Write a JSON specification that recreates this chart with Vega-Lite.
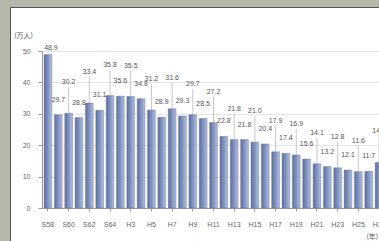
{
  "$schema": "https://vega.github.io/schema/vega-lite/v6.json",
  "width": 369,
  "height": 234,
  "autosize": {"type": "none"},
  "padding": {"left": 10, "top": 7, "right": 0, "bottom": 0},
  "background": "#b6b7a8",
  "view": {"fill": "white", "stroke": "#555555", "strokeWidth": 1},
  "config": {"font": "Liberation Sans"},
  "data": {
    "values": [
      {"year": 1983, "era": "S58", "v": 48.9},
      {"year": 1984, "era": "S59", "v": 29.7},
      {"year": 1985, "era": "S60", "v": 30.2},
      {"year": 1986, "era": "S61", "v": 28.8},
      {"year": 1987, "era": "S62", "v": 33.4},
      {"year": 1988, "era": "S63", "v": 31.1},
      {"year": 1989, "era": "S64", "v": 35.8},
      {"year": 1990, "era": "H2", "v": 35.6},
      {"year": 1991, "era": "H3", "v": 35.5},
      {"year": 1992, "era": "H4", "v": 34.8},
      {"year": 1993, "era": "H5", "v": 31.2},
      {"year": 1994, "era": "H6", "v": 28.9},
      {"year": 1995, "era": "H7", "v": 31.6},
      {"year": 1996, "era": "H8", "v": 29.3},
      {"year": 1997, "era": "H9", "v": 29.7},
      {"year": 1998, "era": "H10", "v": 28.5},
      {"year": 1999, "era": "H11", "v": 27.2},
      {"year": 2000, "era": "H12", "v": 22.8},
      {"year": 2001, "era": "H13", "v": 21.8},
      {"year": 2002, "era": "H14", "v": 21.8},
      {"year": 2003, "era": "H15", "v": 21.0},
      {"year": 2004, "era": "H16", "v": 20.4},
      {"year": 2005, "era": "H17", "v": 17.9},
      {"year": 2006, "era": "H18", "v": 17.4},
      {"year": 2007, "era": "H19", "v": 16.9},
      {"year": 2008, "era": "H20", "v": 15.6},
      {"year": 2009, "era": "H21", "v": 14.1},
      {"year": 2010, "era": "H22", "v": 13.2},
      {"year": 2011, "era": "H23", "v": 12.8},
      {"year": 2012, "era": "H24", "v": 12.1},
      {"year": 2013, "era": "H25", "v": 11.6},
      {"year": 2014, "era": "H26", "v": 11.7},
      {"year": 2015, "era": "H27", "v": 14.5}
    ]
  },
  "encoding": {
    "x": {
      "field": "era",
      "type": "ordinal",
      "sort": null,
      "scale": {"type": "band", "range": [32, 375], "paddingInner": 0.25, "paddingOuter": 0.2},
      "axis": {
        "orient": "bottom",
        "offset": -33,
        "values": ["S58", "S60", "S62", "S64", "H3", "H5", "H7", "H9", "H11", "H13", "H15", "H17", "H19", "H21", "H23", "H25", "H27"],
        "labelAngle": 0,
        "labelFontSize": 7,
        "labelColor": "#666666",
        "labelPadding": 9,
        "tickSize": 3,
        "tickColor": "#9a9a9a",
        "domainColor": "#9a9a9a",
        "grid": false,
        "title": "(年)",
        "titleFont": "Noto Sans CJK JP",
        "titleFontSize": 7,
        "titleFontWeight": "normal",
        "titleColor": "#555555",
        "titleX": 356,
        "titleY": 28,
        "titleAlign": "left",
        "titleBaseline": "middle"
      }
    },
    "y": {
      "field": "v",
      "type": "quantitative",
      "scale": {"domain": [0, 50], "range": [201, 44], "nice": false, "zero": true},
      "axis": {
        "orient": "left",
        "offset": -32,
        "values": [0, 10, 20, 30, 40, 50],
        "grid": true,
        "gridColor": "#e4e4e4",
        "domainColor": "#9a9a9a",
        "tickColor": "#9a9a9a",
        "tickSize": 4,
        "labelFontSize": 7,
        "labelColor": "#666666",
        "labelPadding": 8,
        "title": "(万人)",
        "titleFont": "Noto Sans CJK JP",
        "titleFontSize": 7,
        "titleFontWeight": "normal",
        "titleColor": "#555555",
        "titleAngle": 0,
        "titleX": -19,
        "titleY": 28,
        "titleAlign": "center",
        "titleBaseline": "middle"
      }
    }
  },
  "layer": [
    {
      "mark": {
        "type": "bar",
        "color": {
          "gradient": "linear",
          "x1": 0, "y1": 0, "x2": 1, "y2": 0,
          "stops": [
            {"offset": 0, "color": "#5c6f9f"},
            {"offset": 0.55, "color": "#8797c2"},
            {"offset": 1, "color": "#b3c0de"}
          ]
        },
        "stroke": "#5b6c98",
        "strokeWidth": 0.4
      }
    },
    {
      "transform": [{"filter": "datum.year % 2 == 1 && datum.year != 1983"}],
      "mark": {"type": "rule", "stroke": "#a0a0a0", "strokeWidth": 0.6, "y2Offset": -26},
      "encoding": {"y2": {"field": "v"}}
    },
    {
      "transform": [{"filter": "datum.year == 1983"}],
      "mark": {"type": "text", "fontSize": 7, "color": "#555555", "dy": -6, "dx": 3, "baseline": "middle"},
      "encoding": {"text": {"field": "v", "type": "quantitative", "format": ".1f"}}
    },
    {
      "transform": [{"filter": "datum.year % 2 == 1 && datum.year != 1983"}],
      "mark": {"type": "text", "fontSize": 7, "color": "#555555", "dy": -31, "baseline": "middle"},
      "encoding": {"text": {"field": "v", "type": "quantitative", "format": ".1f"}}
    },
    {
      "transform": [{"filter": "datum.year % 2 == 0"}],
      "mark": {"type": "text", "fontSize": 7, "color": "#555555", "dy": -15, "baseline": "middle"},
      "encoding": {"text": {"field": "v", "type": "quantitative", "format": ".1f"}}
    }
  ]
}
